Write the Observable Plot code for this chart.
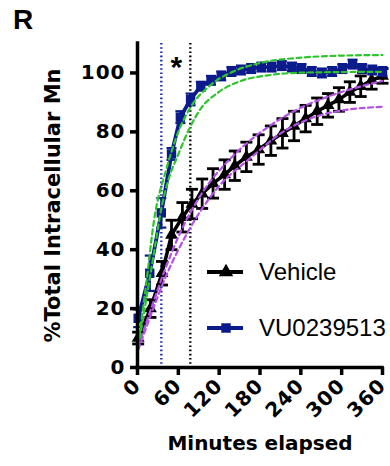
<!DOCTYPE html>
<html>
<head>
<meta charset="utf-8">
<script src="https://cdn.jsdelivr.net/npm/d3@7"></script>
<script src="https://cdn.jsdelivr.net/npm/@observablehq/plot@0.6"></script>
<style>
  body { margin: 0; background: #fff; }
  #wrap { position: relative; width: 390px; height: 466px; overflow: hidden; }
  .lab { position: absolute; white-space: nowrap; color: #000; }
  #chart svg g[aria-label="x-axis tick label"] text, #chart svg g[aria-label="y-axis tick label"] text { letter-spacing: 1px; }
</style>
</head>
<body>
<div id="wrap">
  <div id="chart"></div>
  <div class="lab" style="left:13px;top:4px;font:bold 28px 'Liberation Sans',Arial,sans-serif;">R</div>
  <svg style="position:absolute;left:0;top:0;" width="390" height="466" id="legend"></svg>
</div>
<script>
// ---- data ----
const blueTimes  = [1, 18, 35, 50, 63, 78, 93, 108, 123, 138, 152, 167, 182, 197, 212, 227, 241, 256, 271, 286, 301, 316, 330, 345, 360];
const blueValues = [16.7, 32, 52.5, 72.5, 85, 91, 95.5, 97.5, 99, 100.5, 101, 101.5, 102, 102, 102.5, 102, 101.5, 100.5, 100, 100.5, 101.5, 103, 101.5, 101, 100.5];
const blueErrors = [3, 6, 5, 2, 2, 2, 1.5, 1.5, 1.5, 1.5, 1.5, 1.5, 1.5, 1.5, 1.5, 1.5, 1.5, 1.5, 1.5, 1.5, 1.5, 1.5, 1.5, 1.5, 1.5];

const blackTimes  = [1, 19, 36, 50, 66, 80, 95, 111, 128, 143, 160, 178, 196, 213, 230, 247, 264, 280, 296, 312, 328, 344, 360];
const blackValues = [10, 20, 32, 45, 51, 55.5, 59, 62.5, 65.5, 68.5, 71.5, 74, 77, 79.5, 82, 84.5, 87, 89, 91, 93.5, 95.5, 97.5, 99];
const blackErrors = [2, 3, 4, 5, 5, 5, 5, 5, 5, 5, 5, 5, 5, 5, 5, 4.5, 4.5, 4, 4, 3.5, 3.5, 3, 2.5];

// confidence-band curves
const greenUpperT = [1, 11, 25, 42, 60, 77, 108, 143, 182, 240, 289, 360];
const greenUpperV = [8, 25, 51, 67, 80, 88, 96, 100.7, 103.5, 105.2, 105.8, 106.1];
const greenLowerT = [1, 12, 25, 35, 45, 60, 77, 94, 118, 152, 192, 240, 360];
const greenLowerV = [7, 22, 40, 54, 63.4, 72.4, 81.5, 88.2, 93.3, 97.3, 99.2, 100.1, 100.4];
const magUpperT = [1, 20, 40, 64, 94, 143, 191, 240, 289, 360];
const magUpperV = [7, 20, 33, 46.4, 58.9, 72.4, 81.5, 88.2, 92.7, 97.3];
const magLowerT = [1, 20, 40, 75, 118, 167, 216, 265, 314, 360];
const magLowerV = [6, 18, 30, 46.4, 61.1, 71.3, 80.3, 85.4, 87.7, 88.5];

const halfTimes = [35, 77.6];
const halfColors = ["#1a2db0", "#000000"];
const xTicks = [0, 60, 120, 180, 240, 300, 360];
const yTicks = [0, 20, 40, 60, 80, 100];
const seriesNames = ["Vehicle", "VU0239513"];
const star = [{t: 57, v: 102, s: "*"}];

const BLUE = "#0b1b8b";
const GREEN = "#2ec42e";
const MAG = "#b450e6";

const zip = (ts, vs, es) => ts.map((t, i) => ({t, v: vs[i], e: es ? es[i] : 0}));
const blue = zip(blueTimes, blueValues, blueErrors);
const black = zip(blackTimes, blackValues, blackErrors);
const gU = zip(greenUpperT, greenUpperV), gL = zip(greenLowerT, greenLowerV);
const mU = zip(magUpperT, magUpperV), mL = zip(magLowerT, magLowerV);
const halves = halfTimes.map((t, i) => ({t, c: halfColors[i]}));

const capSymbol = {draw(ctx, size) { const r = Math.sqrt(size / Math.PI); ctx.moveTo(-r, 0); ctx.lineTo(r, 0); }};

function errMarks(data, color, capR, w) {
  return [
    Plot.ruleX(data, {x: "t", y1: d => d.v - d.e, y2: d => d.v + d.e, stroke: color, strokeWidth: w}),
    Plot.dot(data, {x: "t", y: d => d.v + d.e, symbol: capSymbol, r: capR, stroke: color, strokeWidth: w, fill: "none"}),
    Plot.dot(data, {x: "t", y: d => d.v - d.e, symbol: capSymbol, r: capR, stroke: color, strokeWidth: w, fill: "none"})
  ];
}
const dash = {strokeWidth: 2.2, strokeDasharray: "5,3.5", curve: "monotone-x"};

const chart = Plot.plot({
  width: 390, height: 466,
  marginLeft: 137, marginRight: 8, marginTop: 43, marginBottom: 99,
  x: {domain: [0, 360]},
  y: {domain: [0, 110]},
  style: {fontFamily: "'DejaVu Sans', sans-serif", fontWeight: "bold", fontSize: "20px", color: "#000", overflow: "visible", background: "transparent"},
  marks: [
    Plot.ruleX(halves, {x: "t", stroke: "c", strokeWidth: 2.4, strokeDasharray: "1.6,2.6"}),
    ...errMarks(black, "#000", 6, 2.8),
    Plot.line(black, {x: "t", y: "v", stroke: "#000", strokeWidth: 3.5}),
    Plot.dot(black, {x: "t", y: "v", symbol: "triangle", r: 4.8, fill: "#000"}),
    ...errMarks(blue, BLUE, 5, 2.2),
    Plot.line(blue, {x: "t", y: "v", stroke: BLUE, strokeWidth: 3.8}),
    Plot.dot(blue, {x: "t", y: "v", symbol: "square", r: 5.3, fill: BLUE}),
    Plot.line(mU, {x: "t", y: "v", stroke: MAG, ...dash}),
    Plot.line(mL, {x: "t", y: "v", stroke: MAG, ...dash}),
    Plot.line(gU, {x: "t", y: "v", stroke: GREEN, ...dash}),
    Plot.line(gL, {x: "t", y: "v", stroke: GREEN, ...dash}),
    Plot.text(star, {x: "t", y: "v", text: "s", fontSize: 30, fontWeight: "bold", fontFamily: "'Liberation Sans', Arial"}),
    Plot.axisY({ticks: yTicks, tickSize: 7, tickPadding: 5, strokeWidth: 3.5, label: null}),
    Plot.axisX({ticks: xTicks, tickSize: 8, tickRotate: -45, tickPadding: 7, strokeWidth: 3.5, label: null}),
    Plot.ruleX([0], {strokeWidth: 3.5, strokeLinecap: "square"}),
    Plot.ruleY([0], {strokeWidth: 3.5, strokeLinecap: "square"}),
    Plot.text(["%Total Intracellular Mn"], {frameAnchor: "left", textAnchor: "middle", rotate: -90, dx: -84, fontSize: 21, fontWeight: "bold"}),
    Plot.text(["Minutes elapsed"], {frameAnchor: "bottom", dy: 82, fontSize: 20, fontWeight: "bold"})
  ]
});
document.getElementById("chart").appendChild(chart);

// legend (drawn in the overlay svg)
const lg = d3.select("#legend");
const entries = [
  {name: seriesNames[0], color: "#000", sym: d3.symbolTriangle, y: 272, size: 90},
  {name: seriesNames[1], color: BLUE, sym: d3.symbolSquare, y: 328, size: 90}
];
entries.forEach(e => {
  lg.append("line").attr("x1", 207).attr("x2", 243).attr("y1", e.y).attr("y2", e.y)
    .attr("stroke", e.color).attr("stroke-width", 4);
  lg.append("path").attr("d", d3.symbol(e.sym, e.size)()).attr("transform", `translate(226,${e.y})`).attr("fill", e.color);
  lg.append("text").attr("x", 259).attr("y", e.y).attr("dy", "0.35em")
    .attr("font-family", "'Liberation Sans', Arial, sans-serif").attr("font-size", 24).attr("fill", "#000").text(e.name);
});
</script>
</body>
</html>
